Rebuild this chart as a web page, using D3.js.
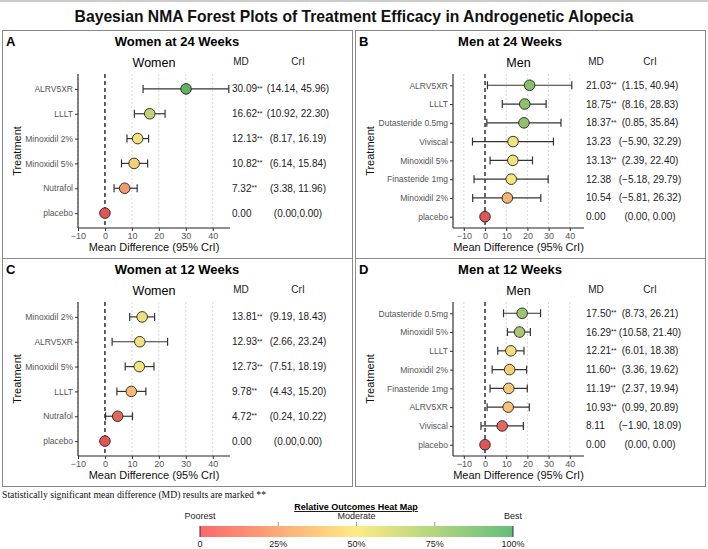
<!DOCTYPE html>
<html>
<head>
<meta charset="utf-8">
<script src="https://cdn.jsdelivr.net/npm/d3@7"></script>
<style>
  body { margin: 0; background: #fff; }
  svg { display: block; font-family: "Liberation Sans", Arial, sans-serif; }
</style>
</head>
<body>
<svg id="chart" width="708" height="549"></svg>
<script>
// ---- data ----
const w24Tx    = ["ALRV5XR", "LLLT", "Minoxidil 2%", "Minoxidil 5%", "Nutrafol", "placebo"];
const w24Md    = [30.09, 16.62, 12.13, 10.82, 7.32, 0];
const w24Lo    = [14.14, 10.92, 8.17, 6.14, 3.38, 0];
const w24Hi    = [45.96, 22.30, 16.19, 15.84, 11.96, 0];
const w24Sig   = [true, true, true, true, true, false];
const w24Score = [1.0, 0.68, 0.52, 0.42, 0.2, 0.0];

const m24Tx    = ["ALRV5XR", "LLLT", "Dutasteride 0.5mg", "Viviscal", "Minoxidil 5%", "Finasteride 1mg", "Minoxidil 2%", "placebo"];
const m24Md    = [21.03, 18.75, 18.37, 13.23, 13.13, 12.38, 10.54, 0];
const m24Lo    = [1.15, 8.16, 0.85, -5.90, 2.39, -5.18, -5.81, 0];
const m24Hi    = [40.94, 28.83, 35.84, 32.29, 22.40, 29.79, 26.32, 0];
const m24Sig   = [true, true, true, false, true, false, false, false];
const m24Score = [0.87, 0.85, 0.84, 0.52, 0.52, 0.5, 0.3, 0.0];

const w12Tx    = ["Minoxidil 2%", "ALRV5XR", "Minoxidil 5%", "LLLT", "Nutrafol", "placebo"];
const w12Md    = [13.81, 12.93, 12.73, 9.78, 4.72, 0];
const w12Lo    = [9.19, 2.66, 7.51, 4.43, 0.24, 0];
const w12Hi    = [18.43, 23.24, 18.19, 15.20, 10.22, 0];
const w12Sig   = [true, true, true, true, true, false];
const w12Score = [0.53, 0.52, 0.51, 0.32, 0.05, 0.0];

const m12Tx    = ["Dutasteride 0.5mg", "Minoxidil 5%", "LLLT", "Minoxidil 2%", "Finasteride 1mg", "ALRV5XR", "Viviscal", "placebo"];
const m12Md    = [17.50, 16.29, 12.21, 11.60, 11.19, 10.93, 8.11, 0];
const m12Lo    = [8.73, 10.58, 6.01, 3.36, 2.37, 0.99, -1.90, 0];
const m12Hi    = [26.21, 21.40, 18.38, 19.62, 19.94, 20.89, 18.09, 0];
const m12Sig   = [true, true, true, true, true, true, false, false];
const m12Score = [0.8, 0.77, 0.46, 0.4, 0.38, 0.35, 0.05, 0.0];

const xTicks = [-10, 0, 10, 20, 30, 40];
const legendTicks = [0, 0.25, 0.5, 0.75, 1];
const legendTickLabels = ["0", "25%", "50%", "75%", "100%"];
const legendWords = [["Poorest", 0], ["Moderate", 0.5], ["Best", 1]];

const svg = d3.select("#chart");
const f2 = d3.format(".2f");

const legendColor = d3.scaleLinear().domain([0, 0.5, 1]).range(["#f8696b", "#ffeb84", "#63be7b"]);
const pointColor = d3.scaleLinear().domain([0, 0.25, 0.5, 1]).range(["#e05656", "#f3aa72", "#f7e47c", "#62b165"]);

// title
svg.append("line")
    .attr("x1", 0).attr("x2", 708).attr("y1", 1).attr("y2", 1)
    .attr("stroke", "#999");
svg.append("text")
    .attr("x", 354).attr("y", 22)
    .attr("text-anchor", "middle")
    .attr("font-size", 15.7).attr("font-weight", "bold")
    .attr("fill", "#111")
    .text("Bayesian NMA Forest Plots of Treatment Efficacy in Androgenetic Alopecia");

function drawForest(p) {
    const g = svg.append("g");
    const y0 = p.box[1];

    g.append("rect")
        .attr("x", p.box[0] + 0.5).attr("y", y0 + 0.5)
        .attr("width", p.box[2]).attr("height", p.box[3])
        .attr("fill", "none").attr("stroke", "#8a8a8a");

    g.append("text")
        .attr("x", p.box[0] + 4).attr("y", y0 + 16)
        .attr("font-size", 13).attr("font-weight", "bold")
        .text(p.letter);

    g.append("text")
        .attr("x", p.titleX).attr("y", y0 + 16)
        .attr("text-anchor", "middle")
        .attr("font-size", 13).attr("font-weight", "bold")
        .text(p.title);

    const x = d3.scaleLinear().domain(p.domain).range(p.xRange);
    const y = d3.scalePoint().domain(p.tx).range([y0 + 44, y0 + 198]).padding(0.6);

    const rows = p.tx.map((t, i) => ({ t, md: p.md[i], lo: p.lo[i], hi: p.hi[i], sig: p.sig[i], s: p.score[i] }));

    g.append("text")
        .attr("x", (p.xRange[0] + p.xRange[1]) / 2).attr("y", y0 + 37)
        .attr("text-anchor", "middle")
        .attr("font-size", 12.5)
        .text(p.sub);

    g.append("text")
        .attr("x", p.mdHead).attr("y", y0 + 35)
        .attr("text-anchor", "middle")
        .attr("font-size", 10).attr("fill", "#222")
        .text("MD");
    g.append("text")
        .attr("x", p.criX).attr("y", y0 + 35)
        .attr("text-anchor", "middle")
        .attr("font-size", 10).attr("fill", "#222")
        .text("CrI");

    // grid
    g.selectAll(".grid")
      .data(xTicks.filter(d => d !== 0))
      .join("line")
        .attr("x1", d => x(d)).attr("x2", d => x(d))
        .attr("y1", y0 + 44).attr("y2", y0 + 198)
        .attr("stroke", "#cfcfcf").attr("stroke-width", 0.8)
        .attr("stroke-dasharray", "2,2");

    g.append("line")
        .attr("x1", x(0)).attr("x2", x(0))
        .attr("y1", y0 + 44).attr("y2", y0 + 198)
        .attr("stroke", "#111").attr("stroke-width", 1.3)
        .attr("stroke-dasharray", "4,3");

    // axes
    g.append("g")
        .attr("transform", `translate(0,${y0 + 198})`)
        .call(d3.axisBottom(x).tickValues(xTicks).tickSize(3).tickSizeOuter(0).tickPadding(2))
        .call(a => {
            a.select(".domain").attr("stroke", "#222").attr("stroke-width", 1.1)
                .attr("d", `M${p.xRange[0]},0H${p.xRange[1]}`);
            a.selectAll(".tick line").attr("stroke", "#333");
            a.selectAll(".tick text").attr("fill", "#555").attr("font-size", 9).attr("font-family", "Liberation Sans, Arial, sans-serif");
        });

    g.append("g")
        .attr("transform", `translate(${p.xRange[0]},0)`)
        .call(d3.axisLeft(y).tickSize(3).tickSizeOuter(0).tickPadding(2))
        .call(a => {
            a.select(".domain").attr("stroke", "#222").attr("stroke-width", 1.1)
                .attr("d", `M0,${y0 + 44}V${y0 + 198}`);
            a.selectAll(".tick line").attr("stroke", "#333");
            a.selectAll(".tick text").attr("fill", "#555").attr("font-size", 8.5).attr("font-family", "Liberation Sans, Arial, sans-serif");
        });

    g.append("text")
        .attr("x", (p.xRange[0] + p.xRange[1]) / 2).attr("y", y0 + 221)
        .attr("text-anchor", "middle")
        .attr("font-size", 11).attr("fill", "#111")
        .text("Mean Difference (95% CrI)");

    g.append("text")
        .attr("transform", `translate(${p.box[0] + 19},${y0 + 121}) rotate(-90)`)
        .attr("text-anchor", "middle")
        .attr("font-size", 11).attr("fill", "#111")
        .text("Treatment");

    // error bars
    const bars = g.selectAll(".bar").data(rows.filter(d => d.hi > d.lo)).join("g");
    bars.append("line")
        .attr("x1", d => x(d.lo)).attr("x2", d => x(d.hi))
        .attr("y1", d => y(d.t)).attr("y2", d => y(d.t));
    bars.append("line")
        .attr("x1", d => x(d.lo)).attr("x2", d => x(d.lo))
        .attr("y1", d => y(d.t) - 4).attr("y2", d => y(d.t) + 4);
    bars.append("line")
        .attr("x1", d => x(d.hi)).attr("x2", d => x(d.hi))
        .attr("y1", d => y(d.t) - 4).attr("y2", d => y(d.t) + 4);
    bars.selectAll("line").attr("stroke", "#333").attr("stroke-width", 1.2);

    g.selectAll(".pt")
      .data(rows)
      .join("circle")
        .attr("cx", d => x(d.md)).attr("cy", d => y(d.t))
        .attr("r", 5.3)
        .attr("fill", d => pointColor(d.s))
        .attr("stroke", "#222").attr("stroke-width", 0.9);

    // MD and CrI columns
    const md = g.selectAll(".md")
      .data(rows)
      .join("text")
        .attr("x", p.mdX).attr("y", d => y(d.t) + 3.5)
        .attr("font-size", 10).attr("fill", "#222")
        .text(d => f2(d.md));
    md.filter(d => d.sig)
      .append("tspan")
        .attr("font-size", 7).attr("dy", -1.5)
        .text("**");

    g.selectAll(".cri")
      .data(rows)
      .join("text")
        .attr("x", p.criX).attr("y", d => y(d.t) + 3.5)
        .attr("text-anchor", "middle")
        .attr("font-size", 10).attr("fill", "#222")
        .text(d => `(${f2(d.lo)},${d.hi === 0 && d.lo === 0 ? p.zeroSep : " "}${f2(d.hi)})`);
}

const womenLayout = { domain: [-10, 46.4], xRange: [78, 230], mdX: 232, mdHead: 241, criX: 298, titleX: 177, zeroSep: "" };
const menLayout = { domain: [-15.1, 46.7], xRange: [453, 584], mdX: 586, mdHead: 596, criX: 650, titleX: 510, zeroSep: " " };

drawForest(Object.assign({ box: [2, 30, 350, 228], letter: "A", title: "Women at 24 Weeks", sub: "Women",
    tx: w24Tx, md: w24Md, lo: w24Lo, hi: w24Hi, sig: w24Sig, score: w24Score }, womenLayout));
drawForest(Object.assign({ box: [355, 30, 350, 228], letter: "B", title: "Men at 24 Weeks", sub: "Men",
    tx: m24Tx, md: m24Md, lo: m24Lo, hi: m24Hi, sig: m24Sig, score: m24Score }, menLayout));
drawForest(Object.assign({ box: [2, 258, 350, 228], letter: "C", title: "Women at 12 Weeks", sub: "Women",
    tx: w12Tx, md: w12Md, lo: w12Lo, hi: w12Hi, sig: w12Sig, score: w12Score }, womenLayout));
drawForest(Object.assign({ box: [355, 258, 350, 228], letter: "D", title: "Men at 12 Weeks", sub: "Men",
    tx: m12Tx, md: m12Md, lo: m12Lo, hi: m12Hi, sig: m12Sig, score: m12Score }, menLayout));

svg.append("text")
    .attr("x", 2).attr("y", 498)
    .attr("font-family", "Liberation Serif, Times New Roman, serif")
    .attr("font-size", 9.7).attr("fill", "#111")
    .text("Statistically significant mean difference (MD) results are marked **");

// legend
const lx = d3.scaleLinear().domain([0, 1]).range([200, 513]);
const leg = svg.append("g").attr("font-family", "Liberation Sans Narrow, Arial Narrow, sans-serif");
const grad = svg.append("defs").append("linearGradient").attr("id", "heat");
grad.selectAll("stop")
  .data([0, 0.25, 0.5, 0.75, 1])
  .join("stop")
    .attr("offset", d => d * 100 + "%")
    .attr("stop-color", d => legendColor(d));

leg.append("text")
    .attr("x", 356).attr("y", 510)
    .attr("text-anchor", "middle")
    .attr("font-size", 9).attr("font-weight", "bold")
    .attr("text-decoration", "underline")
    .text("Relative Outcomes Heat Map");

leg.append("rect")
    .attr("x", lx(0)).attr("y", 526)
    .attr("width", lx(1) - lx(0)).attr("height", 11)
    .attr("fill", "url(#heat)");

leg.selectAll(".lt")
  .data(legendTicks)
  .join("line")
    .attr("x1", d => lx(d)).attr("x2", d => lx(d))
    .attr("y1", d => (d === 0 || d === 1) ? 526 : 522)
    .attr("y2", d => (d === 0 || d === 1) ? 537 : 526)
    .attr("stroke", d => (d === 0 || d === 1) ? "#333" : "#999");

leg.selectAll(".ll")
  .data(legendTicks)
  .join("text")
    .attr("x", d => lx(d)).attr("y", 547)
    .attr("text-anchor", "middle")
    .attr("font-size", 9).attr("fill", "#222")
    .text((d, i) => legendTickLabels[i]);

leg.selectAll(".lw")
  .data(legendWords)
  .join("text")
    .attr("x", d => lx(d[1])).attr("y", 519)
    .attr("text-anchor", "middle")
    .attr("font-size", 9).attr("fill", "#222")
    .text(d => d[0]);
</script>
</body>
</html>
